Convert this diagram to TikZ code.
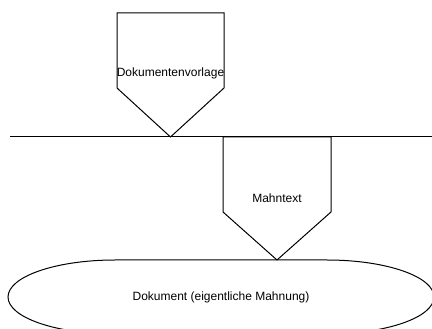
\documentclass[tikz,border=0pt]{standalone}
\usepackage{fontspec}
\setmainfont{Liberation Sans}
\usetikzlibrary{positioning}

\begin{document}
\begin{tikzpicture}[x=1pt, y=1pt,
    outline/.style={draw=black, line width=1pt, line join=miter},
    txt/.style={font=\fontsize{12}{14}\selectfont, text=black, inner sep=0pt}
]
    \useasboundingbox (0,0) rectangle (432,329);
    \clip (0,0) rectangle (432,329);

    % Template block
    \draw[outline] (117,316) -- (224,316) -- (224,241) -- (170.5,192) -- (117,241) -- cycle;
    \node[txt] (vorlage) at (170.5,256) {Dokumentenvorlage};

    % Separator line
    \draw[line width=1pt] (10,192) -- (432,192);

    % Text block
    \draw[outline] (223,192) -- (331,192) -- (331,117) -- (277,69) -- (223,117) -- cycle;
    \node[txt] (mahntext) at (277,131) {Mahntext};

    % Resulting document
    \draw[outline] (115,69) -- (327,69)
        arc[start angle=90, end angle=-90, x radius=107pt, y radius=37pt]
        -- (115,-5)
        arc[start angle=-90, end angle=-270, x radius=107pt, y radius=37pt] -- cycle;
    \node[txt] (dokument) at (221,32) {Dokument (eigentliche Mahnung)};
\end{tikzpicture}
\end{document}
